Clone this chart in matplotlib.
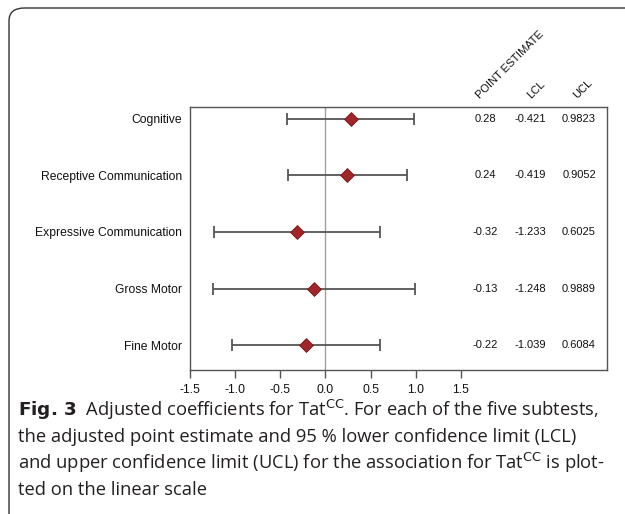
import matplotlib.pyplot as plt
import numpy as np
from matplotlib.patches import FancyBboxPatch

# subtests, top to bottom
subtests = ["Cognitive", "Receptive Communication", "Expressive Communication",
            "Gross Motor", "Fine Motor"]
point_est = [0.28, 0.24, -0.32, -0.13, -0.22]
lcl = [-0.421, -0.419, -1.233, -1.248, -1.039]
ucl = [0.9823, 0.9052, 0.6025, 0.9889, 0.6084]
x_ticks = [-1.5, -1.0, -0.5, 0.0, 0.5, 1.0, 1.5]
col_headers = ["POINT ESTIMATE", "LCL", "UCL"]

W, H = 625, 514
fig = plt.figure(figsize=(W / 100, H / 100), dpi=100)

# rounded frame around figure + caption
frame = FancyBboxPatch((9 / W, -20 / H), (W + 20) / W, (H - 8 + 20) / H,
                       boxstyle="round,pad=0,rounding_size=0.025",
                       transform=fig.transFigure, fill=False,
                       edgecolor="#333333", linewidth=1.0)
fig.patches.append(frame)

# axes box: x from 190 to 607 px, y from 107 to 370 px
ax = fig.add_axes([190 / W, 1 - 370 / H, (607 - 190) / W, (370 - 107) / H])
n = len(subtests)
ypos = np.arange(n, 0, -1)

ax.axvline(0, color="#a0a0a0", linewidth=1.0, zorder=1)
xerr = [np.array(point_est) - np.array(lcl), np.array(ucl) - np.array(point_est)]
ax.errorbar(point_est, ypos, xerr=xerr, fmt="none", ecolor="#555555",
            elinewidth=1.3, capsize=4.5, capthick=1.3, zorder=2)
ax.scatter(point_est, ypos, marker="D", s=50, color="#a0262a",
           edgecolor="#7a1518", linewidth=0.6, zorder=3)

ax.set_xlim(-1.5, 3.12)
ax.set_ylim(0.56, 5.21)
ax.set_xticks(x_ticks)
ax.set_xticklabels([f"{v:.1f}" for v in x_ticks], fontsize=8.8,
                   family="Liberation Sans", color="#111111")
ax.tick_params(axis="x", direction="out", length=6, width=1, pad=4,
               color="#555555")
ax.set_yticks(ypos)
ax.set_yticklabels(subtests, fontsize=8.7, family="Liberation Sans",
                   color="#111111")
ax.tick_params(axis="y", length=0, pad=6)
for s in ax.spines.values():
    s.set_color("#555555")
    s.set_linewidth(1.0)

# value columns
col_x = [1.77, 2.27, 2.81]
cols = [point_est, lcl, ucl]
fmts = ["{:.2f}", "{:.3f}", "{:.4f}"]
for cx, vals, f in zip(col_x, cols, fmts):
    for y, v in zip(ypos, vals):
        ax.text(cx, y, f.format(v), ha="center", va="center", fontsize=8,
                family="Liberation Sans", color="#111111")

# rotated headers
hdr_x = [1.73, 2.29, 2.8]
for hx, h in zip(hdr_x, col_headers):
    ax.text(hx, 5.32, h, rotation=45, ha="left", va="bottom",
            rotation_mode="anchor", fontsize=8, family="Liberation Sans",
            color="#111111")

# caption
cap_font = "Open Sans"
cap_size = 13.2
lines = [
    r"$\bf{Fig.\,3}$  Adjusted coefficients for Tat$^{\rm CC}$. For each of the five subtests,",
    "the adjusted point estimate and 95 % lower confidence limit (LCL)",
    r"and upper confidence limit (UCL) for the association for Tat$^{\rm CC}$ is plot-",
    "ted on the linear scale",
]
ly = [410, 437, 463, 490]
for t, y in zip(lines, ly):
    fig.text(18 / W, 1 - y / H, t, ha="left", va="center", fontsize=cap_size,
             family=cap_font, color="#231f20")

fig.savefig("out.png", dpi=100)
